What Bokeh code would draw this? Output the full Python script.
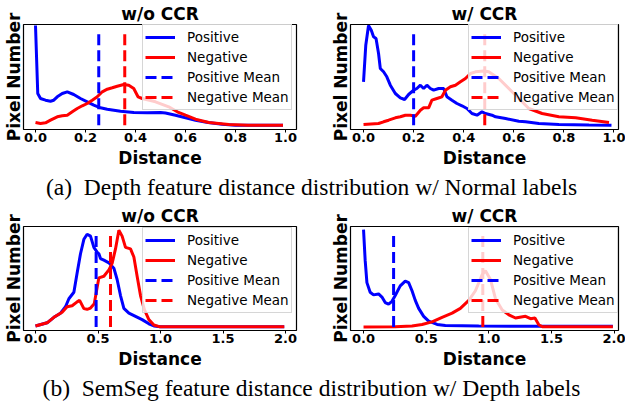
from bokeh.plotting import figure
from bokeh.layouts import column, row
from bokeh.models import Range1d, FixedTicker, PrintfTickFormatter
from bokeh.embed import file_html
from bokeh.resources import INLINE

# ---------------- data ----------------
# (a) Depth feature distance distribution w/ Normal labels -- w/o CCR
depth_wo_pos_x = [0.0, 0.009, 0.02, 0.04, 0.06, 0.073, 0.087, 0.107, 0.127, 0.153, 0.18, 0.207, 0.233,
                  0.26, 0.287, 0.34, 0.393, 0.447, 0.5, 0.52, 0.56, 0.6, 0.64, 0.69, 0.747, 0.8, 0.9, 0.99]
depth_wo_pos_y = [104, 36, 31, 29.3, 28.3, 29.3, 32.7, 36, 37.7, 35, 31, 27.7, 24.3,
                  21.7, 20.3, 18.3, 17, 16.7, 17, 16.5, 14.3, 11.7, 9.3, 7, 5.3, 4.3, 4.3, 4.3]
depth_wo_neg_x = [0.0, 0.02, 0.04, 0.06, 0.087, 0.107, 0.127, 0.147, 0.167, 0.187, 0.207, 0.227, 0.247,
                  0.267, 0.287, 0.307, 0.327, 0.353, 0.373, 0.393, 0.41, 0.427, 0.48, 0.533, 0.567, 0.6,
                  0.64, 0.693, 0.773, 0.85, 0.99]
depth_wo_neg_y = [7, 6, 6.7, 9.3, 12.7, 13.7, 14.3, 17.7, 21, 23.7, 26, 29.3, 32.7,
                  37.7, 40.3, 41.7, 43.3, 45, 44.3, 41, 32.7, 31, 27.7, 22.7, 17.7, 14.3,
                  10.3, 7, 5, 4.3, 4.3]
depth_wo_means = [0.253, 0.357]

# (a) -- w/ CCR
depth_w_pos_x = [0.0, 0.009, 0.02, 0.031, 0.04, 0.05, 0.06, 0.067, 0.08, 0.093, 0.107, 0.127, 0.147,
                 0.164, 0.18, 0.2, 0.213, 0.227, 0.24, 0.253, 0.267, 0.28, 0.3, 0.32, 0.333, 0.353,
                 0.373, 0.393, 0.413, 0.433, 0.453, 0.473, 0.487, 0.513, 0.527, 0.567, 0.62, 0.647,
                 0.7, 0.78, 0.9, 0.99]
depth_w_pos_y = [47.7, 84.3, 104, 99.3, 92.7, 91, 76, 61, 57.7, 52.7, 44.3, 36, 31.7,
                 30, 35, 39.3, 41, 44.3, 41, 44.3, 41, 39.3, 41, 41, 32.7, 29.3,
                 26, 23.7, 21, 16, 14.3, 17.7, 16, 14.3, 12.7, 11, 8.3, 7.7,
                 6, 5, 4.5, 4.3]
depth_w_neg_x = [0.0, 0.06, 0.08, 0.1, 0.127, 0.147, 0.167, 0.187, 0.207, 0.227, 0.24, 0.26, 0.273,
                 0.293, 0.313, 0.327, 0.347, 0.367, 0.387, 0.407, 0.427, 0.447, 0.48, 0.5, 0.54,
                 0.593, 0.647, 0.66, 0.713, 0.78, 0.847, 0.913, 0.98]
depth_w_neg_y = [5, 6, 7.7, 9.3, 11.7, 12.7, 14.3, 14.3, 13.3, 19.3, 21.7, 21.7, 29.3,
                 31, 32.7, 39.3, 42.7, 44.3, 47.7, 51, 56, 57.7, 58.5, 57.7, 51,
                 37.7, 24.3, 21, 16, 12.7, 11.7, 9.3, 7]
depth_w_means = [0.2, 0.484]

# (b) SemSeg feature distance distribution w/ Depth labels -- w/o CCR
seg_wo_pos_x = [0.0, 0.093, 0.147, 0.2, 0.24, 0.267, 0.307, 0.333, 0.36, 0.387, 0.413, 0.44, 0.467,
                0.493, 0.507, 0.52, 0.547, 0.587, 0.627, 0.653, 0.68, 0.707, 0.747, 0.8, 0.853,
                0.907, 0.947, 1.0, 1.5, 1.99]
seg_wo_pos_y = [4.7, 8, 13.7, 18, 24.7, 33, 39.7, 59.7, 79.7, 94.7, 100, 98, 86.3,
                81.3, 79.7, 74.7, 73, 70.3, 64.7, 53, 36.3, 23, 18, 14.7, 11.3,
                7, 4.7, 4, 4, 4]
seg_wo_neg_x = [0.0, 0.093, 0.147, 0.213, 0.253, 0.293, 0.333, 0.353, 0.387, 0.413, 0.44, 0.47, 0.488,
                0.507, 0.547, 0.587, 0.613, 0.64, 0.667, 0.693, 0.72, 0.76, 0.787, 0.813, 0.84,
                0.872, 0.907, 0.947, 0.99, 1.5, 1.99]
seg_wo_neg_y = [4.7, 8, 13.7, 19, 24.7, 25.7, 29.7, 31.3, 22.7, 22, 23.3, 27.7, 41,
                54.7, 56.3, 63, 69.7, 84.7, 104, 98, 86.3, 84.7, 76.3, 56.3, 36.3,
                21.3, 11.3, 5.7, 4, 4, 4]
seg_wo_means = [0.485, 0.6]

# (b) -- w/ CCR
seg_w_pos_x = [0.0, 0.013, 0.027, 0.053, 0.08, 0.12, 0.147, 0.173, 0.2, 0.227, 0.253, 0.293, 0.333,
               0.36, 0.387, 0.413, 0.44, 0.48, 0.52, 0.587, 0.653, 0.92, 1.4, 1.99]
seg_w_pos_y = [104.7, 73, 49.7, 39.7, 37, 38, 34.7, 29, 27.3, 30.3, 36.3, 46.3, 51.3,
               49.7, 41.3, 31.3, 23, 14.7, 9.7, 6.3, 5.3, 4.7, 4.3, 4.3]
seg_w_neg_x = [0.0, 0.253, 0.387, 0.467, 0.547, 0.627, 0.707, 0.773, 0.84, 0.893, 0.947, 0.973, 1.013,
               1.053, 1.107, 1.16, 1.213, 1.293, 1.333, 1.368, 1.4, 1.427, 1.99]
seg_w_neg_y = [3.7, 4, 4.7, 6.3, 9, 13.7, 18, 23, 31.3, 41.3, 58, 62, 53,
               33, 21.3, 16.3, 13, 14.7, 12.3, 13, 5.7, 4, 4]
seg_w_means = [0.24, 0.952]

ticks_small = [0.0, 0.2, 0.4, 0.6, 0.8, 1.0]
ticks_large = [0.0, 0.5, 1.0, 1.5, 2.0]
titles = ["w/o CCR", "w/ CCR"]
legend_labels = ["Positive", "Negative", "Positive Mean", "Negative Mean"]
caption_a = "(a)\u2002Depth feature distance distribution w/ Normal labels"
caption_b = "(b)\u2002SemSeg feature distance distribution w/ Depth labels"

FONT = "DejaVu Sans"
SERIF = "Liberation Serif"
BLUE = "#0000ff"
RED = "#ff0000"
TOTAL_W = 622


def panel(title, px, py, nx, ny, means, xr, ytop, ticks, fw, fh, mb, mean_span, leg_loc):
    p = figure(frame_width=fw, frame_height=fh, title=title,
               x_range=Range1d(*xr), y_range=Range1d(0, ytop),
               output_backend="svg", toolbar_location=None,
               min_border_left=mb[0], min_border_right=mb[1],
               min_border_top=mb[2], min_border_bottom=mb[3])
    p.title.text_font = FONT
    p.title.text_font_size = "17px"
    p.title.text_font_style = "bold"
    p.title.text_color = "black"
    p.title.align = "center"
    p.title.standoff = 2
    p.xgrid.visible = False
    p.ygrid.visible = False
    p.outline_line_color = "black"
    p.outline_line_width = 1.2
    p.background_fill_color = "white"
    p.border_fill_color = "white"

    p.line(px, py, color=BLUE, line_width=3, legend_label=legend_labels[0])
    p.line(nx, ny, color=RED, line_width=3, legend_label=legend_labels[1])
    p.segment(x0=[means[0]], y0=[mean_span[0]], x1=[means[0]], y1=[mean_span[1]],
              color=BLUE, line_width=3, line_dash="11 5", legend_label=legend_labels[2])
    p.segment(x0=[means[1]], y0=[mean_span[0]], x1=[means[1]], y1=[mean_span[1]],
              color=RED, line_width=3, line_dash="11 5", legend_label=legend_labels[3])

    xa = p.xaxis[0]
    xa.ticker = FixedTicker(ticks=ticks)
    xa.formatter = PrintfTickFormatter(format="%.1f")
    xa.axis_line_color = None
    xa.major_tick_out = 3
    xa.major_tick_in = 0
    xa.minor_tick_line_color = None
    xa.major_tick_line_color = "black"
    xa.major_label_standoff = 0
    xa.major_label_text_font = FONT
    xa.major_label_text_font_size = "13px"
    xa.major_label_text_font_style = "bold"
    xa.major_label_text_color = "black"
    xa.axis_label = "Distance"
    xa.axis_label_text_font = FONT
    xa.axis_label_text_font_size = "17px"
    xa.axis_label_text_font_style = "bold"
    xa.axis_label_text_color = "black"
    xa.axis_label_standoff = 3

    ya = p.yaxis[0]
    ya.ticker = FixedTicker(ticks=[])
    ya.axis_line_color = None
    ya.major_tick_out = 0
    ya.major_tick_in = 0
    ya.minor_tick_line_color = None
    ya.major_label_text_font_size = "0px"
    ya.axis_label = "Pixel Number"
    ya.axis_label_text_font = FONT
    ya.axis_label_text_font_size = "17px"
    ya.axis_label_text_font_style = "bold"
    ya.axis_label_text_color = "black"
    ya.axis_label_standoff = 0

    lg = p.legend[0]
    lg.location = leg_loc
    lg.margin = 0
    lg.padding = 2
    lg.spacing = 0
    lg.glyph_width = 30
    lg.glyph_height = 20
    lg.label_height = 20
    lg.label_standoff = 12
    lg.label_text_font = FONT
    lg.label_text_font_size = "13.5px"
    lg.label_text_color = "black"
    lg.background_fill_color = "white"
    lg.background_fill_alpha = 0.8
    lg.border_line_color = "#cccccc"
    lg.border_line_alpha = 0.8
    lg.border_line_width = 1
    return p


def caption(txt, top, bottom):
    # the caption is drawn as the title of an empty, 1 px high strip
    c = figure(frame_width=TOTAL_W, frame_height=1, title=txt,
               x_range=Range1d(0, 1), y_range=Range1d(0, 1),
               output_backend="svg", toolbar_location=None,
               x_axis_location=None, y_axis_location=None,
               min_border_left=0, min_border_right=0, min_border_top=top, min_border_bottom=bottom)
    c.xgrid.visible = False
    c.ygrid.visible = False
    c.outline_line_color = None
    c.background_fill_color = "white"
    c.border_fill_color = "white"
    c.title.text_font = SERIF
    c.title.text_font_size = "23.5px"
    c.title.text_font_style = "normal"
    c.title.text_color = "black"
    c.title.align = "center"
    c.title.standoff = 1
    return c


p1 = panel(titles[0], depth_wo_pos_x, depth_wo_pos_y, depth_wo_neg_x, depth_wo_neg_y, depth_wo_means,
           (-0.048, 1.044), 105, ticks_small, 273, 105, (20, 27, 18, 42), (4.3, 99.3), (119, 19))
p2 = panel(titles[1], depth_w_pos_x, depth_w_pos_y, depth_w_neg_x, depth_w_neg_y, depth_w_means,
           (-0.052, 1.018), 105, ticks_small, 268, 105, (27, 7, 18, 42), (4.3, 99.3), (118, 19))

ca = caption(caption_a, 28, 1)

p3 = panel(titles[0], seg_wo_pos_x, seg_wo_pos_y, seg_wo_neg_x, seg_wo_neg_y, seg_wo_means,
           (-0.096, 2.088), 108, ticks_large, 273, 104, (20, 27, 18, 42), (3.7, 99.7), (119, 17))
p4 = panel(titles[1], seg_w_pos_x, seg_w_pos_y, seg_w_neg_x, seg_w_neg_y, seg_w_means,
           (-0.104, 2.035), 108, ticks_large, 268, 104, (27, 7, 18, 42), (3.7, 99.7), (118, 17))

cb = caption(caption_b, 25, 1)

layout = column(row(p1, p2), ca, row(p3, p4), cb)

open("out.html", "w").write(file_html(layout, INLINE))
